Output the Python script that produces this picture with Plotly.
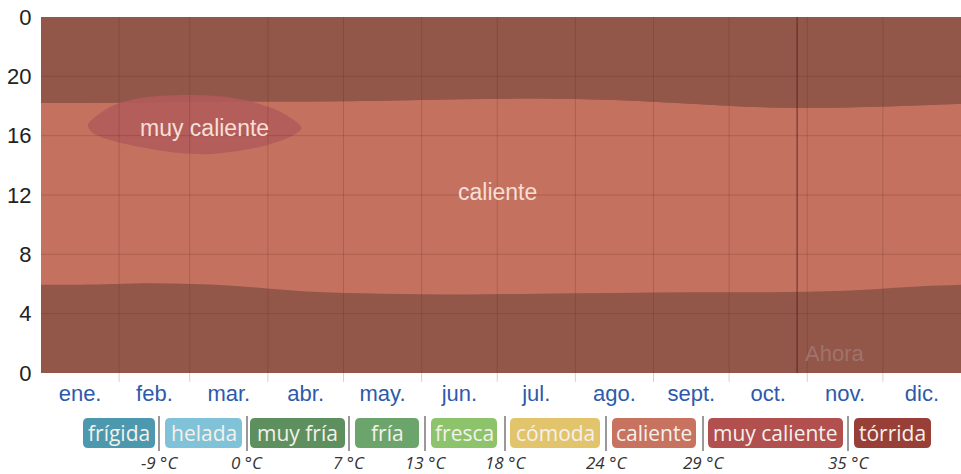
import plotly.graph_objects as go

# --- datos ---
month_names = ['ene.', 'feb.', 'mar.', 'abr.', 'may.', 'jun.',
               'jul.', 'ago.', 'sept.', 'oct.', 'nov.', 'dic.']
month_mid = [15.5, 45, 74.5, 105, 135.5, 166, 196.5, 227.5, 258, 288.5, 319, 349.5]
month_edges = [0, 31, 59, 90, 120, 151, 181, 212, 243, 273, 304, 334, 365]

# día del año en el que se leen los límites (inicio, mitad de cada mes, fin)
days = [0] + month_mid + [365]
# hora en la que empieza y termina la franja "caliente" (fuera de ella: tórrida)
hot_start = [5.95, 5.95, 6.05, 5.9, 5.5, 5.35, 5.3, 5.35, 5.4, 5.45, 5.45, 5.55, 5.85, 5.95]
hot_end = [18.2, 18.2, 18.25, 18.3, 18.3, 18.35, 18.45, 18.5, 18.4, 18.15, 17.9, 17.9, 18.05, 18.15]
day_end = [24] * len(days)

# contorno de la zona "muy caliente"
very_hot_day = [18.6, 27.3, 39.2, 57.9, 73.7, 84.0, 95.9, 103.4, 98.7, 86.8,
                68.2, 55.1, 39.2, 27.3, 20.6, 18.6]
very_hot_hour = [16.72, 17.93, 18.54, 18.74, 18.61, 18.27, 17.53, 16.52, 15.91, 15.24,
                 14.77, 14.83, 15.24, 15.71, 16.18, 16.72]

now_day = 300

hour_ticks = [0, 4, 8, 12, 16, 20, 24]
hour_labels = ['0', '4', '8', '12', '16', '20', '0']

legend_names = ['frígida', 'helada', 'muy fría', 'fría', 'fresca',
                'cómoda', 'caliente', 'muy caliente', 'tórrida']
legend_colors = ['#4C98AE', '#80C2D7', '#5E8F5E', '#6CA56B', '#8DC36A',
                 '#E2C46C', '#C7735F', '#B24F4F', '#983F37']
legend_limits = ['-9 °C', '0 °C', '7 °C', '13 °C', '18 °C', '24 °C', '29 °C', '35 °C']

TORRIDA = '#93574A'
CALIENTE = '#C4725F'
MUY_CALIENTE = '#B25A5B'

# --- geometría (pixeles de la ventana) ---
W, H = 961, 474
L, R, T, B = 41, 961, 17, 373
pill_x = [(83, 155), (165, 242), (250, 345), (355, 419), (431, 497),
          (510, 600), (612, 696), (708, 843), (854, 931)]
sep_x = [159, 247, 349, 425, 505, 606, 703, 848]


def px(x):
    return (x - L) / (R - L)


def py(y):
    return (B - y) / (B - T)


def rounded(x0, x1, y0, y1, r=5):
    # rectángulo redondeado en coordenadas paper a partir de pixeles
    pts = [
        f'M {px(x0 + r)} {py(y0)}', f'L {px(x1 - r)} {py(y0)}',
        f'Q {px(x1)} {py(y0)} {px(x1)} {py(y0 + r)}', f'L {px(x1)} {py(y1 - r)}',
        f'Q {px(x1)} {py(y1)} {px(x1 - r)} {py(y1)}', f'L {px(x0 + r)} {py(y1)}',
        f'Q {px(x0)} {py(y1)} {px(x0)} {py(y1 - r)}', f'L {px(x0)} {py(y0 + r)}',
        f'Q {px(x0)} {py(y0)} {px(x0 + r)} {py(y0)}', 'Z',
    ]
    return ' '.join(pts)


fig = go.Figure()

fig.add_trace(go.Scatter(x=days, y=hot_start, mode='lines', line=dict(width=0, shape='spline'),
                         fill='tozeroy', fillcolor=TORRIDA, hoverinfo='skip'))
fig.add_trace(go.Scatter(x=days, y=hot_end, mode='lines', line=dict(width=0, shape='spline'),
                         fill='tonexty', fillcolor=CALIENTE, hoverinfo='skip'))
fig.add_trace(go.Scatter(x=days, y=day_end, mode='lines', line=dict(width=0),
                         fill='tonexty', fillcolor=TORRIDA, hoverinfo='skip'))
fig.add_trace(go.Scatter(x=very_hot_day, y=very_hot_hour, mode='lines',
                         line=dict(width=0, shape='spline', smoothing=0.8),
                         fill='toself', fillcolor=MUY_CALIENTE, opacity=0.85, hoverinfo='skip'))

shapes = []
grid = 'rgba(90,35,25,0.22)'
for e in month_edges[1:-1]:
    shapes.append(dict(type='line', xref='x', yref='paper', x0=e, x1=e, y0=-0.025, y1=1,
                       line=dict(color=grid, width=1), layer='above'))
for h in hour_ticks[1:-1]:
    shapes.append(dict(type='line', xref='paper', yref='y', x0=0, x1=1, y0=h, y1=h,
                       line=dict(color=grid, width=1), layer='above'))
shapes.append(dict(type='line', xref='x', yref='paper', x0=now_day, x1=now_day, y0=0, y1=1,
                   line=dict(color='rgba(80,30,22,0.55)', width=1.5), layer='above'))

annotations = [
    dict(x=65, y=16.5, text='muy caliente', showarrow=False,
         font=dict(family='Liberation Sans, Arial', size=23, color='#F8DED6')),
    dict(x=181, y=12.2, text='caliente', showarrow=False,
         font=dict(family='Liberation Sans, Arial', size=23, color='#F8DED6')),
    dict(x=315, y=1.3, text='Ahora', showarrow=False,
         font=dict(family='Liberation Sans, Arial', size=22, color='#A0736B')),
]

for (x0, x1), name, col in zip(pill_x, legend_names, legend_colors):
    shapes.append(dict(type='path', xref='paper', yref='paper', path=rounded(x0, x1, 418, 448),
                       fillcolor=col, line=dict(width=0), layer='below'))
    annotations.append(dict(xref='paper', yref='paper', x=px((x0 + x1) / 2), y=py(433),
                            xanchor='center', yanchor='middle',
                            text=name, showarrow=False,
                            font=dict(family='Open Sans', size=21, color='#F4F1EC')))
for sx, lab in zip(sep_x, legend_limits):
    shapes.append(dict(type='line', xref='paper', yref='paper', x0=px(sx), x1=px(sx),
                       y0=py(416), y1=py(451), line=dict(color='#777777', width=1.5)))
    annotations.append(dict(xref='paper', yref='paper', x=px(sx), y=py(462),
                            xanchor='center', yanchor='middle', borderpad=0,
                            text=f'<i>{lab}</i>', showarrow=False,
                            font=dict(family='Open Sans', size=17, color='#333333')))

fig.update_layout(
    width=W, height=H,
    margin=dict(l=L, r=W - R, t=T, b=H - B, autoexpand=False),
    paper_bgcolor='white', plot_bgcolor=TORRIDA,
    showlegend=False,
    shapes=shapes, annotations=annotations,
    xaxis=dict(range=[0, 365], tickmode='array', tickvals=month_mid, ticktext=month_names,
               showgrid=False, zeroline=False, ticks='outside', ticklen=1,
               tickcolor='rgba(0,0,0,0)', automargin=False,
               tickfont=dict(family='Liberation Sans, Arial', size=22, color='#2E5AAC')),
    yaxis=dict(range=[0, 24], tickmode='array', tickvals=hour_ticks, ticktext=hour_labels,
               showgrid=False, zeroline=False, ticks='outside', ticklen=4,
               tickcolor='rgba(0,0,0,0)', automargin=False,
               tickfont=dict(family='Liberation Sans, Arial', size=22, color='#222222')),
)

# sin el margen por defecto del <body>, para que la figura ocupe la ventana exacta
fig.write_html('out.html', config={'displayModeBar': False},
               post_script="document.body.style.margin='0';document.body.style.overflow='hidden';")
